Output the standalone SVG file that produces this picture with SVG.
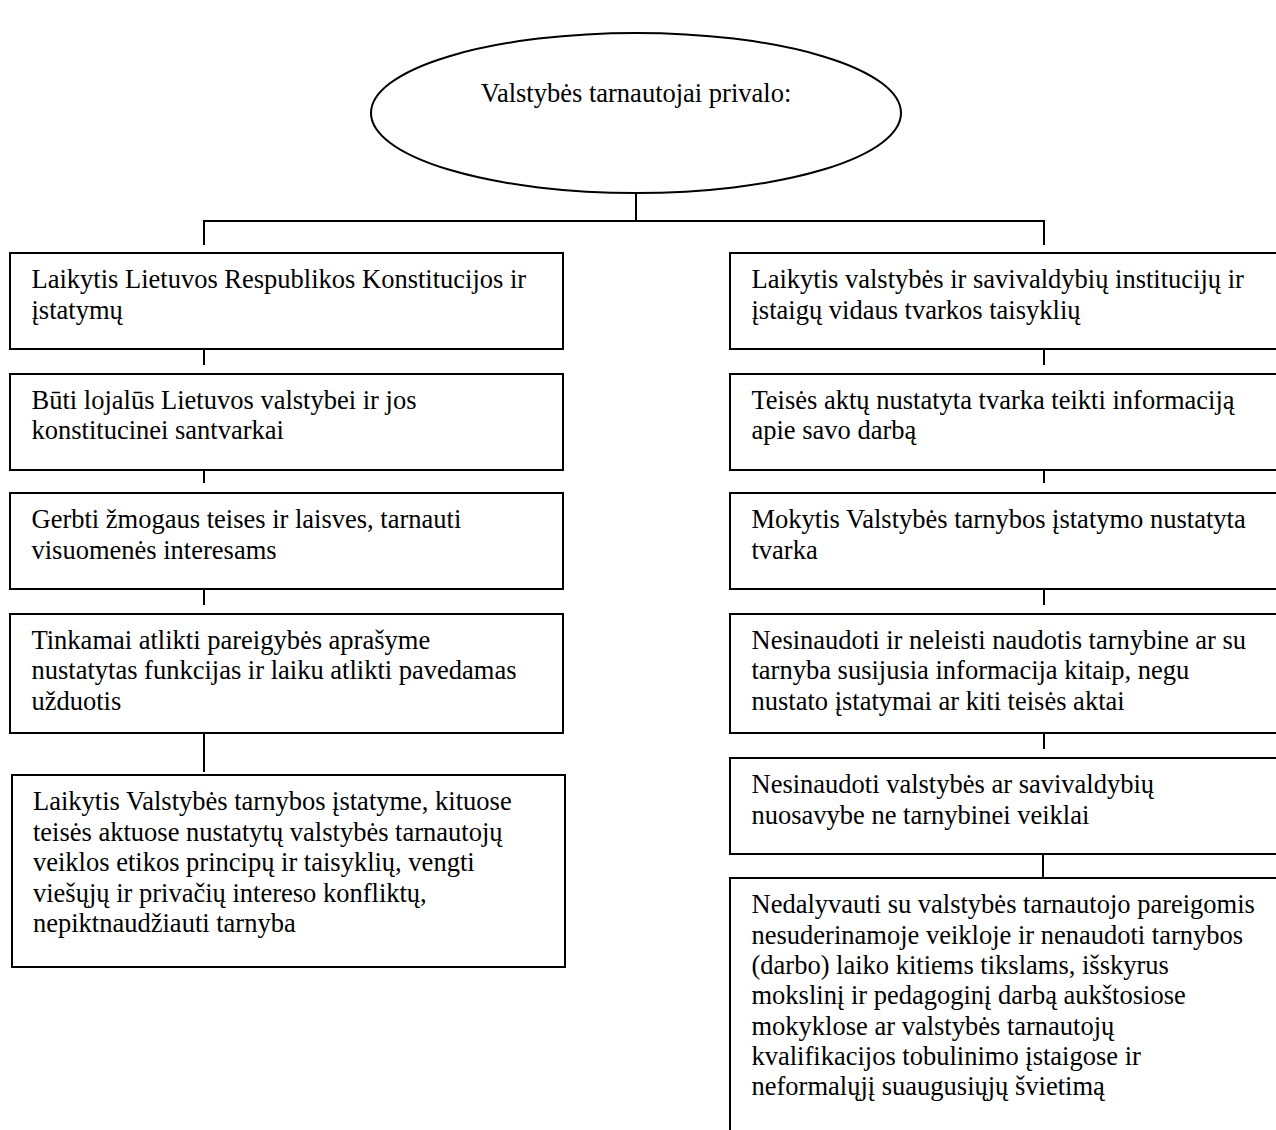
<svg xmlns="http://www.w3.org/2000/svg" width="1276" height="1130" viewBox="0 0 1276 1130">
<style>
  .box { fill: #ffffff; stroke: #000000; stroke-width: 2; }
  .oval { fill: #ffffff; stroke: #000000; stroke-width: 2; }
  .conn { fill: none; stroke: #000000; stroke-width: 2; }
  text { font-family: "Liberation Serif", "Times New Roman", serif; font-size: 26.5px; fill: #000000; }
</style>
<rect x="0" y="0" width="1276" height="1130" fill="#ffffff"/>

<g id="connectors">
  <path class="conn" d="M636 193 V221 M204 221 H1044 M204 220 V245 M1044 220 V245"/>
  <path class="conn" d="M204 350 V365 M204 471 V483 M204 590 V605 M204 734 V772"/>
  <path class="conn" d="M1044 350 V365 M1044 471 V483 M1044 590 V605 M1044 734 V749 M1043 855 V878"/>
</g>

<g id="root">
  <ellipse class="oval" cx="636" cy="113" rx="265" ry="80"/>
  <text x="636" y="102" text-anchor="middle">Valstybės tarnautojai privalo:</text>
</g>

<g id="left1">
  <rect class="box" x="10" y="253" width="553" height="96"/>
  <text x="31.5" y="288">Laikytis Lietuvos Respublikos Konstitucijos ir</text>
  <text x="31.5" y="319">įstatymų</text>
</g>
<g id="left2">
  <rect class="box" x="10" y="374" width="553" height="96"/>
  <text x="31.5" y="408.5">Būti lojalūs Lietuvos valstybei ir jos</text>
  <text x="31.5" y="439">konstitucinei santvarkai</text>
</g>
<g id="left3">
  <rect class="box" x="10" y="493" width="553" height="96"/>
  <text x="31.5" y="528">Gerbti žmogaus teises ir laisves, tarnauti</text>
  <text x="31.5" y="559">visuomenės interesams</text>
</g>
<g id="left4">
  <rect class="box" x="10" y="614" width="553" height="119"/>
  <text x="31.5" y="648.5">Tinkamai atlikti pareigybės aprašyme</text>
  <text x="31.5" y="679">nustatytas funkcijas ir laiku atlikti pavedamas</text>
  <text x="31.5" y="709.5">užduotis</text>
</g>
<g id="left5">
  <rect class="box" x="12" y="775" width="553" height="192"/>
  <text x="33" y="810">Laikytis Valstybės tarnybos įstatyme, kituose</text>
  <text x="33" y="840.5">teisės aktuose nustatytų valstybės tarnautojų</text>
  <text x="33" y="871">veiklos etikos principų ir taisyklių, vengti</text>
  <text x="33" y="901.5">viešųjų ir privačių intereso konfliktų,</text>
  <text x="33" y="932">nepiktnaudžiauti tarnyba</text>
</g>

<g id="right1">
  <rect class="box" x="730" y="253" width="553" height="96"/>
  <text x="751.5" y="288">Laikytis valstybės ir savivaldybių institucijų ir</text>
  <text x="751.5" y="319">įstaigų vidaus tvarkos taisyklių</text>
</g>
<g id="right2">
  <rect class="box" x="730" y="374" width="553" height="96"/>
  <text x="751.5" y="408.5">Teisės aktų nustatyta tvarka teikti informaciją</text>
  <text x="751.5" y="439">apie savo darbą</text>
</g>
<g id="right3">
  <rect class="box" x="730" y="493" width="553" height="96"/>
  <text x="751.5" y="528">Mokytis Valstybės tarnybos įstatymo nustatyta</text>
  <text x="751.5" y="559">tvarka</text>
</g>
<g id="right4">
  <rect class="box" x="730" y="614" width="553" height="119"/>
  <text x="751.5" y="648.5">Nesinaudoti ir neleisti naudotis tarnybine ar su</text>
  <text x="751.5" y="679">tarnyba susijusia informacija kitaip, negu</text>
  <text x="751.5" y="709.5">nustato įstatymai ar kiti teisės aktai</text>
</g>
<g id="right5">
  <rect class="box" x="730" y="758" width="553" height="96"/>
  <text x="751.5" y="793.3">Nesinaudoti valstybės ar savivaldybių</text>
  <text x="751.5" y="823.8">nuosavybe ne tarnybinei veiklai</text>
</g>
<g id="right6">
  <rect class="box" x="730" y="878" width="553" height="270"/>
  <text x="751.5" y="913.3">Nedalyvauti su valstybės tarnautojo pareigomis</text>
  <text x="751.5" y="943.6">nesuderinamoje veikloje ir nenaudoti tarnybos</text>
  <text x="751.5" y="973.9">(darbo) laiko kitiems tikslams, išskyrus</text>
  <text x="751.5" y="1004.2">mokslinį ir pedagoginį darbą aukštosiose</text>
  <text x="751.5" y="1034.5">mokyklose ar valstybės tarnautojų</text>
  <text x="751.5" y="1064.8">kvalifikacijos tobulinimo įstaigose ir</text>
  <text x="751.5" y="1095.1">neformalųjį suaugusiųjų švietimą</text>
</g>
</svg>
